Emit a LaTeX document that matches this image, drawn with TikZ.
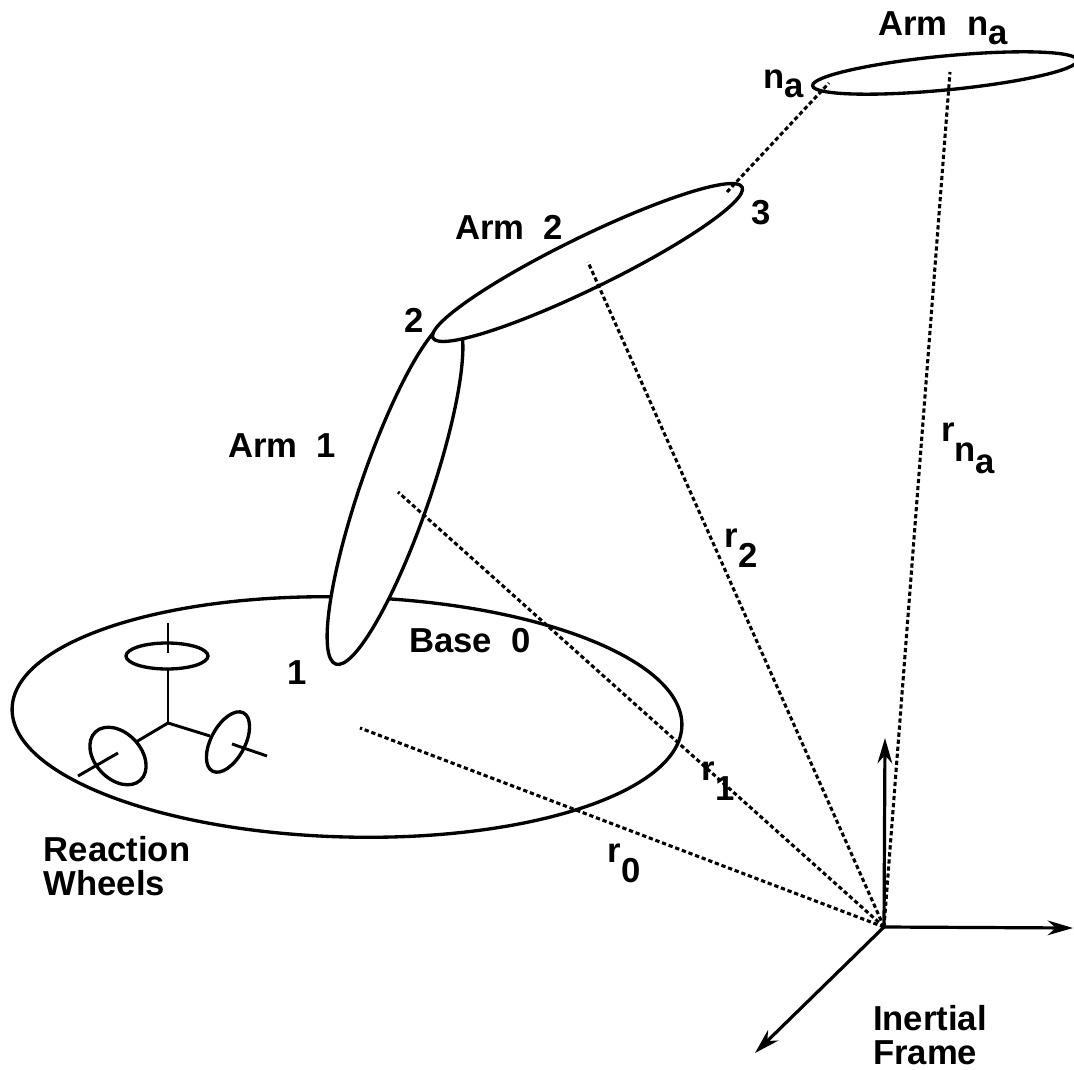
\documentclass[tikz,border=0pt]{standalone}
\usepackage{fontspec}
\setmainfont{Liberation Sans}
\usetikzlibrary{arrows.meta}
\newcommand{\lowered}[2][0.25em]{\raisebox{-#1}{#2}}
\tikzset{
  rimline/.style={line width=2.5pt},
  shaftline/.style={line width=2.2pt},
  radiusline/.style={line width=2.3pt,dash pattern=on 3.2pt off 2.1pt},
  frameaxis/.style={line width=2.4pt,-{Stealth[length=19pt,width=11pt]}},
  tag/.style={font=\bfseries\fontsize{26}{25}\selectfont,inner sep=0pt,align=left},
}
\begin{document}
\begin{tikzpicture}[x=0.75pt,y=-0.75pt]
    \useasboundingbox (0,0) rectangle (1074,1070);
    \clip (0,0) rectangle (1074,1070);

    % origin of the radius vectors
    \coordinate (origin) at (884,927);

    % base and its wheels
    \draw[rimline] (347,717) ellipse [x radius=335,y radius=120,rotate=-1.5];
    \coordinate (hub) at (168,723);
    \coordinate (wheeltop) at (167,656);
    \coordinate (wheelleft) at (118,756);
    \coordinate (wheelright) at (228,742);
    \draw[shaftline] (168,623) -- (168,653);
    \draw[shaftline] (168,668) -- (hub);
    \draw[shaftline] (hub) -- (136,742);
    \draw[shaftline] (hub) -- (210,736);
    \draw[shaftline] (78,776) -- (118,753);
    \draw[shaftline] (232,744) -- (267,756);
    \draw[rimline] (wheeltop) ellipse [x radius=41,y radius=13];
    \draw[rimline] (wheelleft) ellipse [x radius=33,y radius=23,rotate=-47];
    \draw[rimline] (wheelright) ellipse [x radius=33,y radius=17,rotate=62];

    % arms
    \draw[rimline,fill=white] (395,492) ellipse [x radius=182,y radius=35,rotate=71];
    \draw[rimline,fill=white] (587.5,262.5) ellipse [x radius=172,y radius=26,rotate=26];
    \draw[rimline,fill=white] (945,73) ellipse [x radius=133,y radius=17,rotate=5.5];

    % radius vectors
    \coordinate (basecentre) at (360,728);
    \coordinate (armonecentre) at (398,492);
    \coordinate (armtwocentre) at (588,262);
    \coordinate (armlastcentre) at (950,72);
    \coordinate (jointthree) at (727,192);
    \coordinate (jointlast) at (829,83);
    \draw[radiusline] (origin) -- (basecentre);
    \draw[radiusline] (origin) -- (armonecentre);
    \draw[radiusline] (origin) -- (armtwocentre);
    \draw[radiusline] (origin) -- (armlastcentre);
    \draw[radiusline] (jointthree) -- (jointlast);

    % inertial axes
    \draw[frameaxis] (origin) -- (885,738);
    \draw[frameaxis] (origin) -- (1073,928);
    \draw[frameaxis] (origin) -- (755,1053);

    \node[tag] (armlastlabel) at (943,28.5) {Arm\ \ n\lowered{a}};
    \node[tag] (jointlastlabel) at (784,84) {n\lowered{a}};
    \node[tag] (jointthreelabel) at (761,213) {3};
    \node[tag] (armtwolabel) at (509,227) {Arm\ \ 2};
    \node[tag] (jointtwolabel) at (414,320) {2};
    \node[tag] (armonelabel) at (282,446) {Arm\ \ 1};
    \node[tag] (jointonelabel) at (297,673) {1};
    \node[tag] (baselabel) at (470,641) {Base\ \ 0};
    \node[tag] (wheelslabel) at (117,866) {Reaction\\Wheels};
    \node[tag] (framelabel) at (930,1035) {Inertial\\Frame};
    \node[tag] (rlast) at (968,448) {r\lowered[0.58em]{n\lowered[0.34em]{a}}};
    \node[tag] (rtwo) at (741,548) {r\lowered[0.58em]{2}};
    \node[tag] (rone) at (718,781) {r\lowered[0.58em]{1}};
    \node[tag] (rzero) at (624,863) {r\lowered[0.58em]{0}};
\end{tikzpicture}
\end{document}
